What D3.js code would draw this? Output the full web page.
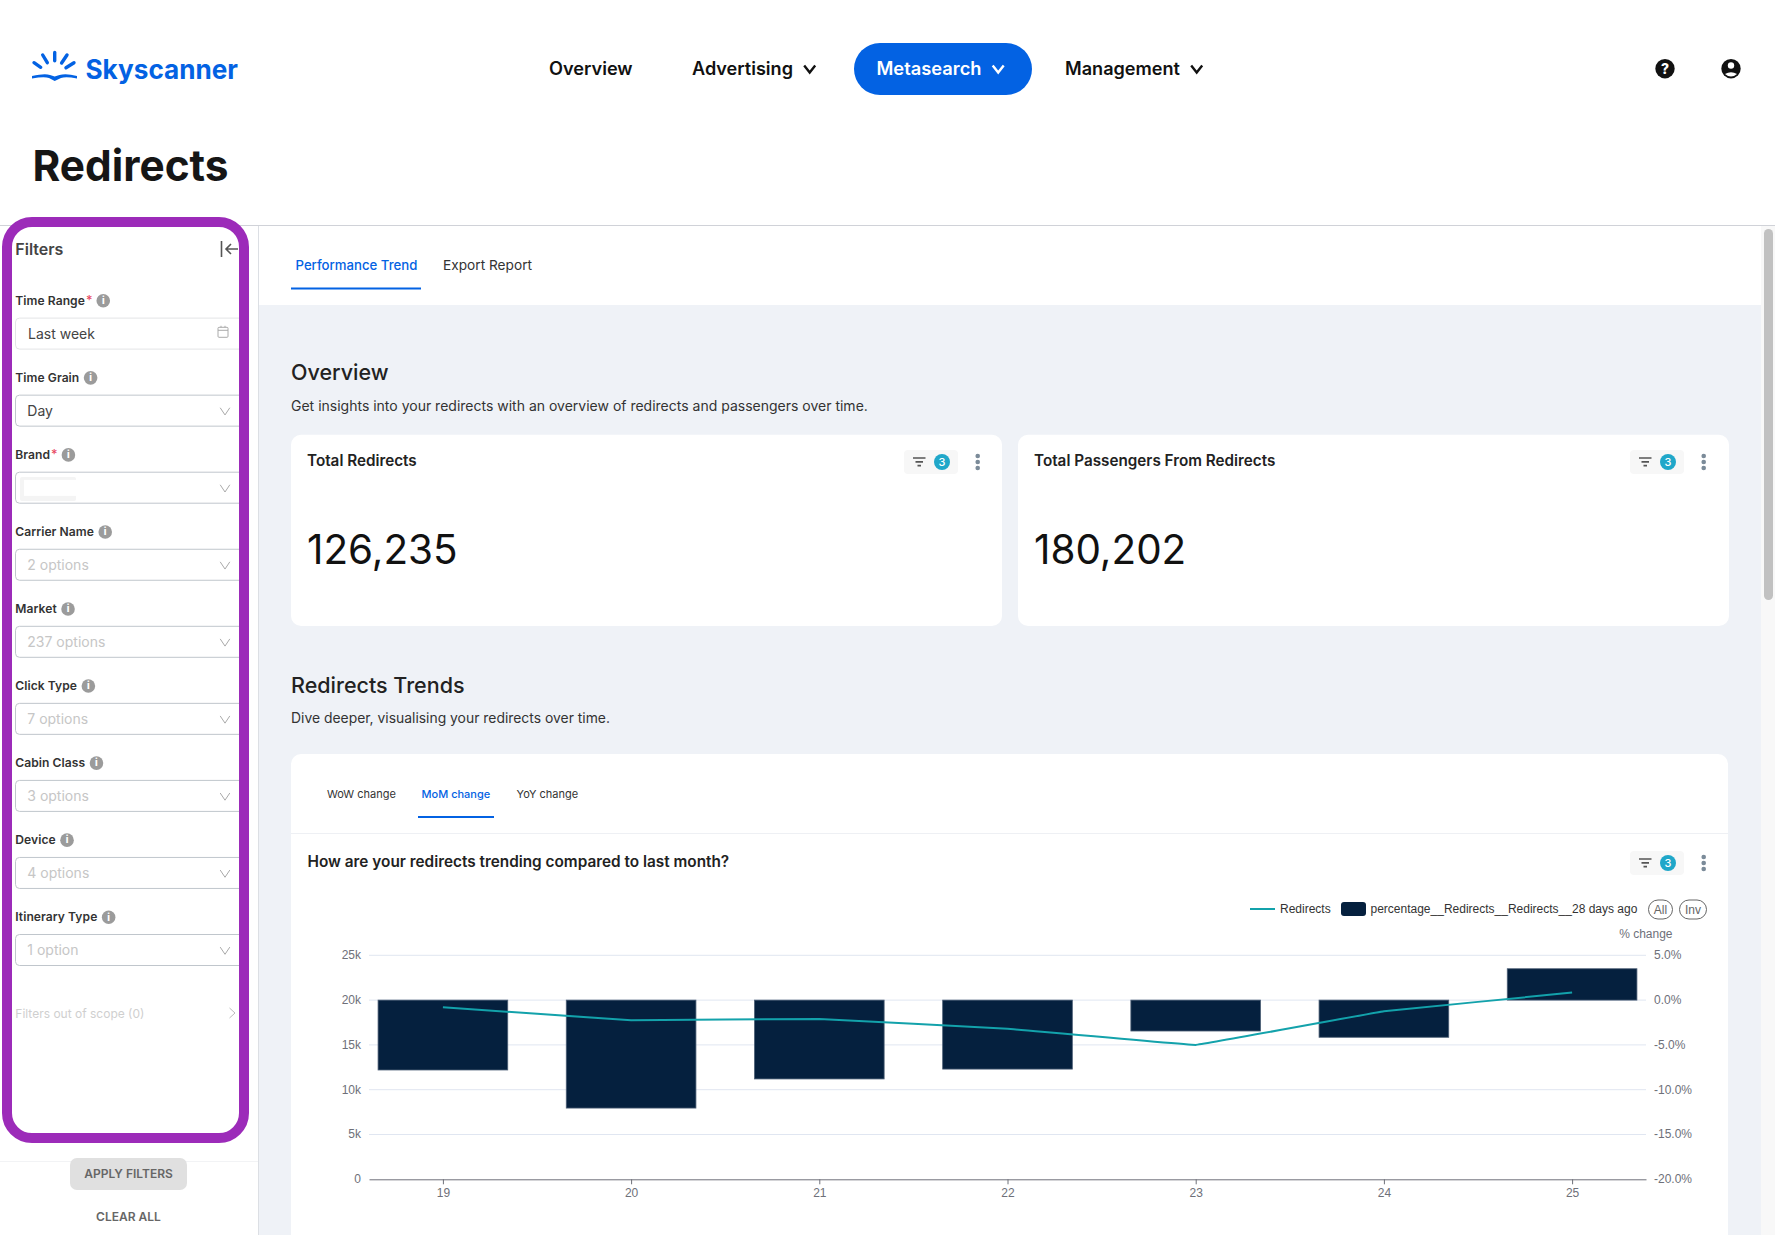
<!DOCTYPE html>
<html>
<head>
<meta charset="utf-8">
<title>Redirects</title>
<script src="https://cdn.jsdelivr.net/npm/d3@7"></script>
<style>
  html, body { margin: 0; padding: 0; background: #fff; overflow: hidden; }
  svg { display: block; }
  text { font-family: Inter, "Noto Sans", sans-serif; }
  .chart text { font-family: "Liberation Sans", Arial, sans-serif; }
</style>
</head>
<body>
<div id="page"></div>
<script>
// chart data
const days = ["19", "20", "21", "22", "23", "24", "25"]
const redirects = [19200, 17750, 17900, 16800, 15000, 18750, 20835]
const pctChange = [-7.8, -12.05, -8.8, -7.7, -3.45, -4.15, 3.5]
const leftTicks = [0, 5000, 10000, 15000, 20000, 25000]
const rightTicks = [-20, -15, -10, -5, 0, 5]
const legendLine = "Redirects"
const legendBar = "percentage__Redirects__Redirects__28 days ago"

// page text
const navItems = ["Overview", "Advertising", "Metasearch", "Management"]
const chartTabs = ["WoW change", "MoM change", "YoY change"]
const kpiTitles = ["Total Redirects", "Total Passengers From Redirects"]
const kpiValues = ["126,235", "180,202"]
const filterNames = ["Time Range", "Time Grain", "Brand", "Carrier Name", "Market", "Click Type", "Cabin Class", "Device", "Itinerary Type"]
const filterValues = ["Last week", "Day", "", "2 options", "237 options", "7 options", "3 options", "4 options", "1 option"]
const requiredFilters = ["Time Range", "Brand"]

const blue = "#0362e3"
const svg = d3.select("#page").append("svg").attr("width", 1775).attr("height", 1235)

function label(g, x, y, str, size, weight, color, anchor) {
  return g.append("text").attr("x", x).attr("y", y).attr("dy", "0.35em")
    .attr("font-size", size).attr("font-weight", weight).attr("fill", color)
    .attr("text-anchor", anchor || "start").text(str)
}
function box(g, x, y, w, h, r, fill, stroke) {
  return g.append("rect").attr("x", x).attr("y", y).attr("width", w).attr("height", h)
    .attr("rx", r).attr("fill", fill).attr("stroke", stroke || "none")
}
function chevron(g, x, y, w, h, color, sw) {
  g.append("path").attr("d", `M${x - w} ${y - h}L${x} ${y + h}L${x + w} ${y - h}`)
    .attr("fill", "none").attr("stroke", color).attr("stroke-width", sw)
}

// backgrounds
box(svg, 258, 225, 1517, 1010, 0, "#eff2f7")
box(svg, 258, 226, 1503, 79, 0, "#fff")
svg.append("line").attr("x1", 0).attr("x2", 1775).attr("y1", 225.5).attr("y2", 225.5).attr("stroke", "#d0d2d8")
svg.append("line").attr("x1", 258.5).attr("x2", 258.5).attr("y1", 226).attr("y2", 1235).attr("stroke", "#dcdfe4")
box(svg, 1761, 226, 14, 1009, 0, "#f8f8f8")
box(svg, 1764, 229, 9, 371, 4.5, "#c1c1c1")

// header
const logo = svg.append("g")
const rays = [[34, 62.7, 40.7, 67.3], [42.7, 55, 47.3, 62.7], [54.7, 52.5, 54.7, 60.7], [67, 55, 61.6, 63], [74, 62.7, 66, 67.8]]
rays.forEach(r => logo.append("line").attr("x1", r[0]).attr("y1", r[1]).attr("x2", r[2]).attr("y2", r[3])
  .attr("stroke", blue).attr("stroke-width", 3.4).attr("stroke-linecap", "round"))
logo.append("path").attr("d", "M32 76Q45 73 50 75L54.7 76.5L59.5 75Q66 73 77 76L77 78.5Q66 76.5 61 78L54.7 81L49 78Q44 76.5 32 78.5Z").attr("fill", blue)
label(logo, 85.5, 69.3, "Skyscanner", 26.5, 700, blue).attr("textLength", 152.5).attr("lengthAdjust", "spacingAndGlyphs")

const navX = [549, 692, 876.5, 1065]
const navW = [83.6, 101, 105, 115]
box(svg, 854, 43, 178, 52, 26, blue)
navItems.forEach((d, i) => {
  const color = d == "Metasearch" ? "#fff" : "#111"
  label(svg, navX[i], 68.5, d, 18, 600, color).attr("textLength", navW[i]).attr("lengthAdjust", "spacingAndGlyphs")
  if (i > 0) chevron(svg, navX[i] + navW[i] + 16.7, 69, 5.5, 3.5, color, 2.4)
})

const help = svg.append("g")
help.append("circle").attr("cx", 1665).attr("cy", 68.7).attr("r", 9.7).attr("fill", "#111")
label(help, 1665, 69, "?", 14, 800, "#fff", "middle")
const user = svg.append("g")
user.append("circle").attr("cx", 1731).attr("cy", 68.7).attr("r", 9.7).attr("fill", "#111")
user.append("circle").attr("cx", 1731).attr("cy", 65.5).attr("r", 3.2).attr("fill", "#fff")
user.append("path").attr("d", "M1725 74Q1731 70.5 1737 74Q1731 79 1725 74Z").attr("fill", "#fff")

label(svg, 32.5, 165.5, "Redirects", 43, 700, "#161616").attr("textLength", 196).attr("lengthAdjust", "spacingAndGlyphs")

// sidebar
const side = svg.append("g")
label(side, 15.3, 249.5, "Filters", 16, 600, "#444")
side.append("path").attr("d", "M221.5 241V257M238 249H226M231 244L226 249L231 254").attr("fill", "none").attr("stroke", "#555").attr("stroke-width", 1.6)
filterNames.forEach((name, i) => {
  const y = 300.3 + i * 77.05
  const t = label(side, 15.3, y, name, 12.1, 600, "#333").attr("letter-spacing", 0.05)
  let end = 15.3 + t.node().getComputedTextLength()
  if (requiredFilters.includes(name)) {
    label(side, end + 1, y, "*", 12.5, 500, "#e8485f")
    end += 7
  }
  side.append("circle").attr("cx", end + 11.3).attr("cy", y + 0.5).attr("r", 6.8).attr("fill", "#9b9b9b")
  label(side, end + 11.3, y + 0.5, "i", 9.5, 800, "#fff", "middle")
  box(side, 15.5, y + 17.8, 228, 31, 4, "#fff", i == 0 ? "#e3e4e6" : "#c0c6cc")
  const color = i < 2 ? "#444" : "#c6c6c6"
  label(side, i == 0 ? 28 : 27.3, y + 33.8, filterValues[i], 14, 400, color)
  if (i == 0) {
    box(side, 218, y + 27, 10, 10, 1, "none", "#aaa")
    side.append("path").attr("d", `M218 ${y + 30}H228M221 ${y + 25.5}V${y + 27}M225 ${y + 25.5}V${y + 27}`).attr("stroke", "#aaa")
  } else {
    chevron(side, 225, y + 34, 4.8, 3.6, "#aaa", 1)
  }
  if (name == "Brand") {
    box(side, 20, y + 22.5, 56, 24, 2, "#f4f4f4")
    box(side, 24, y + 25.5, 52, 16, 0, "#fff")
  }
})
label(side, 15.3, 1013.7, "Filters out of scope (0)", 12, 400, "#cfcfcf")
side.append("path").attr("d", "M229.5 1008L235 1013L229.5 1018").attr("fill", "none").attr("stroke", "#bbb")
box(side, 0, 1144, 258, 91, 0, "#fff")
side.append("line").attr("x1", 0).attr("x2", 258).attr("y1", 1161.5).attr("y2", 1161.5).attr("stroke", "#f2f3f5")
box(side, 70, 1158, 117, 32, 7, "#e0e0e0")
label(side, 128.5, 1173.7, "APPLY FILTERS", 12, 600, "#666", "middle")
label(side, 128.5, 1216.7, "CLEAR ALL", 12, 600, "#666", "middle")
box(side, 7, 222, 237, 916, 25, "none", "#9c2bb9").attr("stroke-width", 10)

// main tabs
label(svg, 295.5, 265.5, "Performance Trend", 13.2, 500, blue)
label(svg, 443, 265.5, "Export Report", 13.7, 400, "#333")
box(svg, 291, 287.5, 130, 2, 0, blue)

// overview section
label(svg, 291, 372.7, "Overview", 21.5, 500, "#222")
label(svg, 291, 406, "Get insights into your redirects with an overview of redirects and passengers over time.", 14, 400, "#333")

function badge(g, x, y) {
  box(g, x, y, 54, 24, 4, "#f7f7f7")
  g.append("path").attr("d", `M${x + 9} ${y + 8}H${x + 21.5}M${x + 11.5} ${y + 11.8}H${x + 19}M${x + 13.5} ${y + 15.6}H${x + 17}`).attr("stroke", "#555").attr("stroke-width", 1.7)
  g.append("circle").attr("cx", x + 38).attr("cy", y + 12).attr("r", 8).attr("fill", "#20a7c9")
  label(g, x + 38, y + 12, "3", 11, 500, "#fff", "middle")
  d3.range(3).forEach(k => g.append("circle").attr("cx", x + 73.7).attr("cy", y + 6 + k * 6).attr("r", 2.3).attr("fill", "#7b8b99"))
}

const kpiX = [291, 1018]
kpiTitles.forEach((title, i) => {
  box(svg, kpiX[i], 434.7, 711, 191.3, 10, "#fff")
  label(svg, kpiX[i] + 16, 460.7, title, 15.25, 600, "#222")
  label(svg, kpiX[i] + 16, 549.5, kpiValues[i], 40.4, 400, "#111")
})
badge(svg, 904, 450)
badge(svg, 1630, 450)

// trends section
label(svg, 291, 685, "Redirects Trends", 21.5, 500, "#222")
label(svg, 291, 718, "Dive deeper, visualising your redirects over time.", 13.9, 400, "#333")
box(svg, 291, 754, 1437, 500, 10, "#fff")
const tabX = [327, 421.5, 516.6]
chartTabs.forEach((d, i) => label(svg, tabX[i], 794, d, 11, d == "MoM change" ? 500 : 400, d == "MoM change" ? blue : "#333"))
box(svg, 418, 816, 76, 2, 0, blue)
svg.append("line").attr("x1", 291).attr("x2", 1728).attr("y1", 833.5).attr("y2", 833.5).attr("stroke", "#eef0f4")
label(svg, 307.5, 862, "How are your redirects trending compared to last month?", 15.35, 600, "#222")
badge(svg, 1630, 851)

// chart
const chart = svg.append("g").attr("class", "chart")
const axisColor = "#6e7079"
const x = d3.scalePoint().domain(days).range([369, 1646]).padding(0.3927)
const yLeft = d3.scaleLinear().domain([0, 25000]).range([1179.3, 955.3])
const yRight = d3.scaleLinear().domain([-20, 5]).range([1179.3, 955.3])
const barWidth = x.step() * 0.689

chart.append("g").selectAll("line").data(leftTicks.slice(1)).enter().append("line")
  .attr("x1", x.range()[0]).attr("x2", x.range()[1])
  .attr("y1", d => yLeft(d)).attr("y2", d => yLeft(d))
  .attr("stroke", "#e0e6f1")

chart.append("g").selectAll("rect").data(pctChange).enter().append("rect")
  .attr("x", (d, i) => x(days[i]) - barWidth / 2)
  .attr("y", d => Math.min(yRight(d), yRight(0)))
  .attr("width", barWidth)
  .attr("height", d => Math.abs(yRight(d) - yRight(0)))
  .attr("fill", "#05203e")
  .attr("stroke", "#4d5f76").attr("stroke-width", 0.8)

const line = d3.line().x((d, i) => x(days[i])).y(d => yLeft(d)).curve(d3.curveCardinal.tension(0.9))
chart.append("path").datum(redirects).attr("d", line)
  .attr("fill", "none").attr("stroke", "#13a2ab").attr("stroke-width", 2)

const styleAxis = g => {
  g.selectAll("text").attr("font-size", 12).attr("fill", axisColor)
  g.selectAll(".domain, .tick line").attr("stroke", axisColor)
}
chart.append("g").attr("transform", "translate(369,-0.5)")
  .call(d3.axisLeft(yLeft).tickValues(leftTicks).tickSize(0).tickPadding(8).tickFormat(d3.format("~s")))
  .call(styleAxis).call(g => g.select(".domain").remove())
chart.append("g").attr("transform", "translate(1646,-0.5)")
  .call(d3.axisRight(yRight).tickValues(rightTicks).tickSize(0).tickPadding(8).tickFormat(d => d.toFixed(1) + "%"))
  .call(styleAxis).call(g => g.select(".domain").remove())
chart.append("g").attr("transform", "translate(0,1179.3)")
  .call(d3.axisBottom(x).tickSize(5).tickSizeOuter(0).tickPadding(4))
  .call(styleAxis)
label(chart, 1672.5, 934, "% change", 12, 400, axisColor, "end")

// legend
chart.append("line").attr("x1", 1250).attr("x2", 1275).attr("y1", 909).attr("y2", 909).attr("stroke", "#13a2ab").attr("stroke-width", 2)
label(chart, 1280, 909, legendLine, 12, 400, "#333")
box(chart, 1341, 902, 25, 14, 3, "#05203e")
label(chart, 1370.5, 909, legendBar, 12, 400, "#333")
box(chart, 1648.5, 900, 24, 19, 9.5, "#fff", "#666")
label(chart, 1660.5, 909.5, "All", 12, 400, "#666", "middle")
box(chart, 1679.5, 900, 27, 19, 9.5, "#fff", "#666")
label(chart, 1693, 909.5, "Inv", 12, 400, "#666", "middle")
</script>
</body>
</html>
